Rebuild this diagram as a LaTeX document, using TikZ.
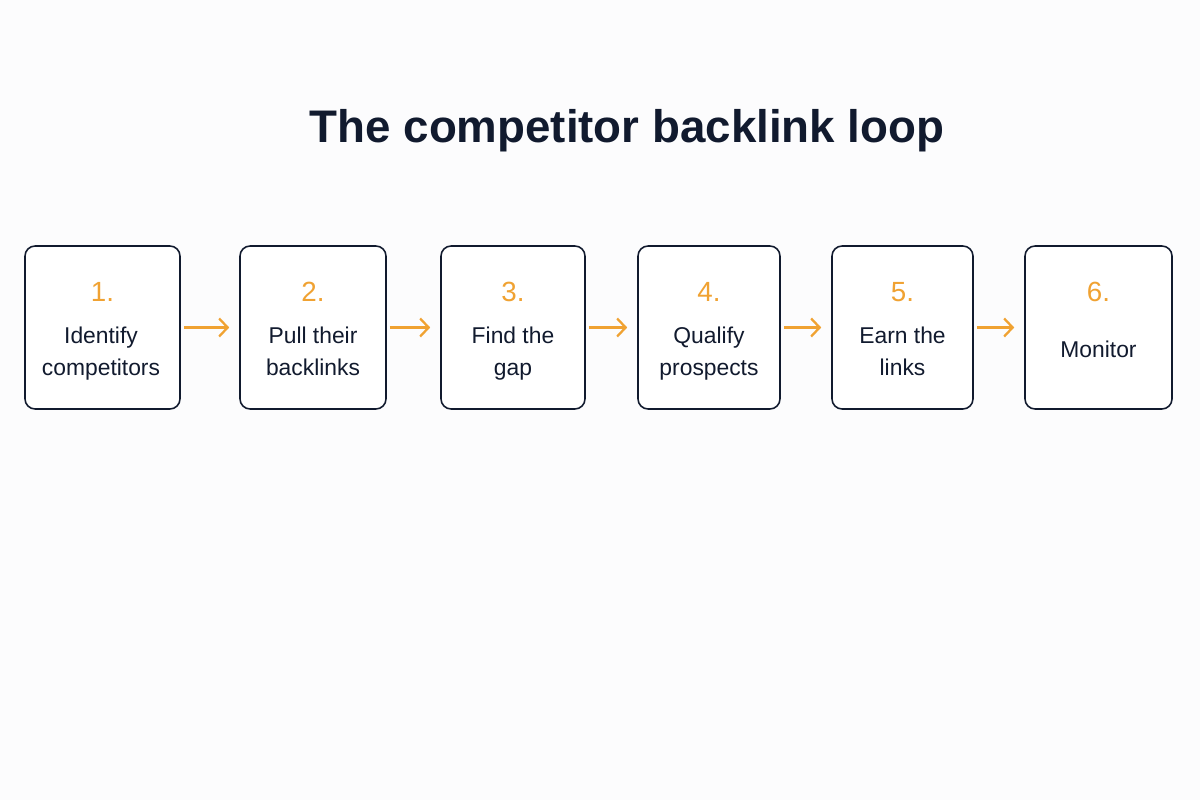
\documentclass[tikz,border=0pt]{standalone}
\usepackage{fontspec}
\setmainfont{Liberation Sans}
\usetikzlibrary{arrows.meta}
\definecolor{ink}{HTML}{111A2E}
\definecolor{accent}{HTML}{F0A232}
\definecolor{bg}{HTML}{FCFCFD}
\tikzset{
  stepbox/.style={draw=ink, line width=0.9pt, rounded corners=0.2cm, fill=white, minimum height=3.26cm, inner sep=0pt},
  stepnum/.style={text=accent, font=\fontsize{15.8}{18}\selectfont, inner sep=0pt},
  steptext/.style={text=ink, font=\fontsize{13}{18.7}\selectfont, align=center, inner sep=0pt},
  flow/.style={draw=accent, line width=1.3pt, -{Straight Barb[length=0.17cm, width=0.36cm, line width=1.3pt]}, shorten <=0.06cm, shorten >=0.2cm},
}
\begin{document}
\begin{tikzpicture}[x=0.02cm, y=-0.02cm]
\fill[bg] (0,0) rectangle (1200,800);
\useasboundingbox (0,0) rectangle (1200,800);
\node[text=ink, font=\fontsize{26}{30}\selectfont\bfseries] (title) at (627,131) {The competitor backlink loop};

\node[stepbox, minimum width=3.10cm] (b1) at (102.5,327.5) {};
\node[stepbox, minimum width=2.92cm] (b2) at (313,327.5) {};
\node[stepbox, minimum width=2.88cm] (b3) at (513,327.5) {};
\node[stepbox, minimum width=2.84cm] (b4) at (709,327.5) {};
\node[stepbox, minimum width=2.82cm] (b5) at (902.5,327.5) {};
\node[stepbox, minimum width=2.94cm] (b6) at (1098.5,327.5) {};

\node[stepnum] (n1) at (102.5,292) {1.};
\node[stepnum] (n2) at (313,292) {2.};
\node[stepnum] (n3) at (513,292) {3.};
\node[stepnum] (n4) at (709,292) {4.};
\node[stepnum] (n5) at (902.5,292) {5.};
\node[stepnum] (n6) at (1098.5,292) {6.};

\node[steptext] (t1) at (101,353) {\strut Identify\\competitors\strut};
\node[steptext] (t2) at (313,353) {\strut Pull their\\backlinks\strut};
\node[steptext] (t3) at (513,353) {\strut Find the\\gap\strut};
\node[steptext] (t4) at (709,353) {\strut Qualify\\prospects\strut};
\node[steptext] (t5) at (902.5,353) {\strut Earn the\\links\strut};
\node[steptext] (t6) at (1098.5,351) {\strut Monitor};

\draw[flow] (b1) -- (b2);
\draw[flow] (b2) -- (b3);
\draw[flow] (b3) -- (b4);
\draw[flow] (b4) -- (b5);
\draw[flow] (b5) -- (b6);
\end{tikzpicture}
\end{document}
